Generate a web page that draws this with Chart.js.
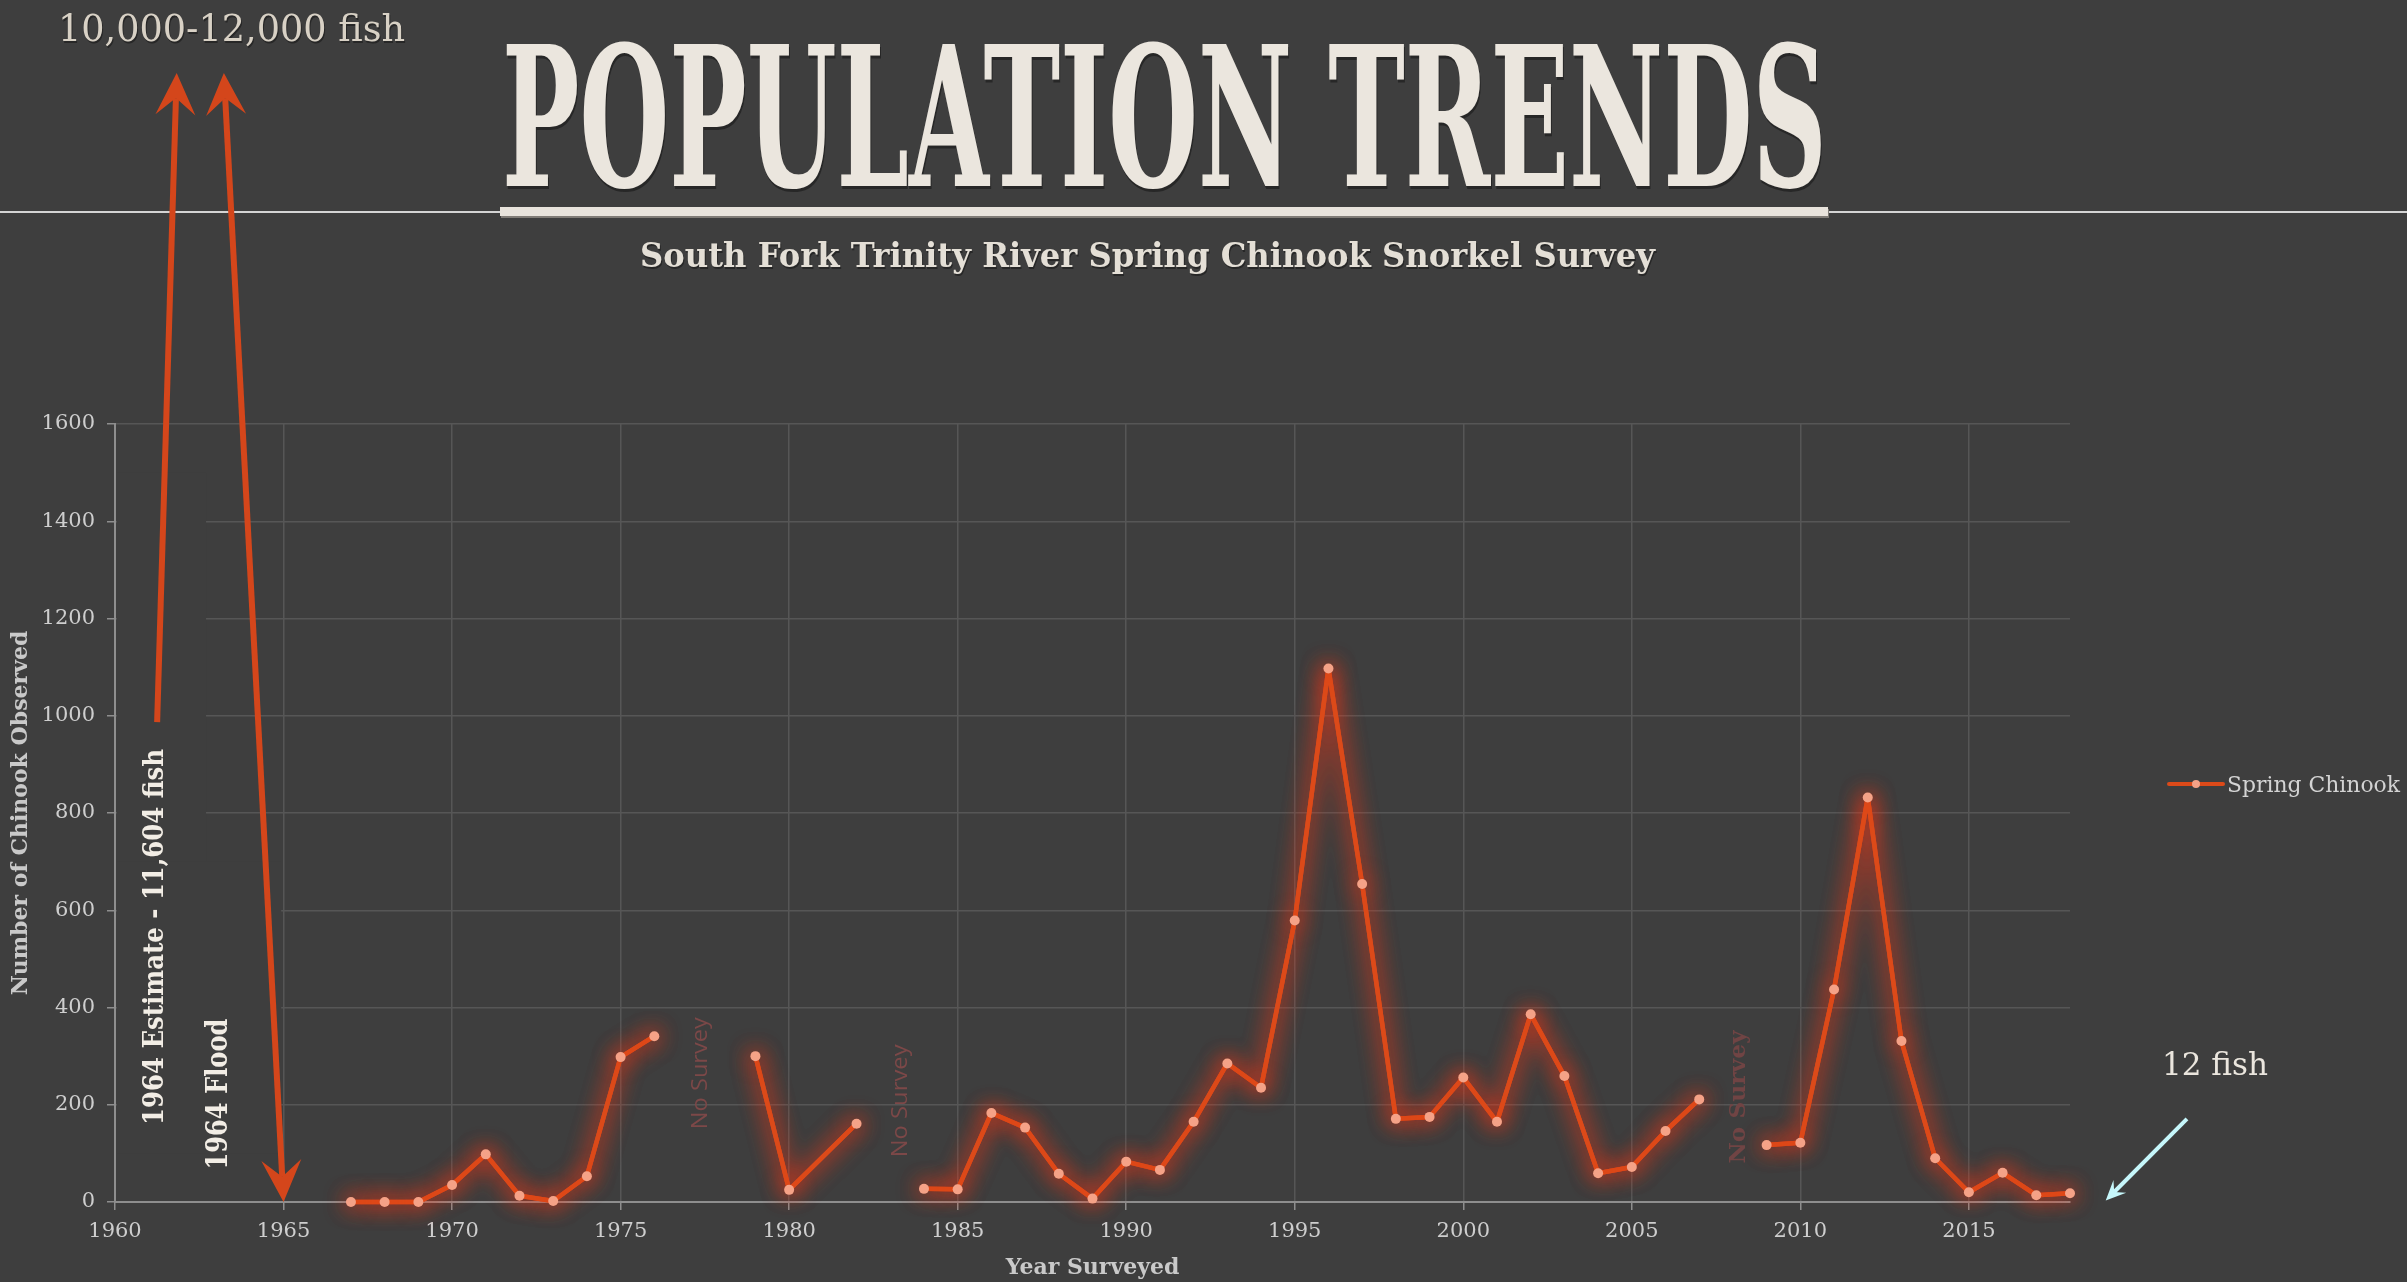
<!DOCTYPE html>
<html>
<head>
<meta charset="utf-8">
<title>Population Trends</title>
<script src="https://cdn.jsdelivr.net/npm/chart.js@4.4.1/dist/chart.umd.min.js"></script>
<style>
  html, body { margin: 0; padding: 0; background: #3e3e3e; overflow: hidden; }
  #wrap { position: relative; width: 2407px; height: 1282px; }
</style>
</head>
<body>
<div id="wrap"><canvas id="popChart"></canvas></div>
<script>
/* ===== Data ===== */
const surveyYears = [1967,1968,1969,1970,1971,1972,1973,1974,1975,1976,1977,1978,1979,1980,
  1982,1983,1984,1985,1986,1987,1988,1989,1990,1991,1992,1993,1994,1995,1996,1997,1998,1999,
  2000,2001,2002,2003,2004,2005,2006,2007,2008,2009,2010,2011,2012,2013,2014,2015,2016,2017,2018];
// null = no survey that year (breaks the line)
const chinookCounts = [0,0,0,35,98,13,2,53,298,341,null,null,300,25,
  161,null,27,26,183,153,58,7,83,66,165,285,235,579,1097,654,171,175,
  256,165,386,259,59,72,146,211,null,117,122,437,832,331,90,20,60,14,18];
const xTickYears  = [1960,1965,1970,1975,1980,1985,1990,1995,2000,2005,2010,2015];
const yTickValues = [0,200,400,600,800,1000,1200,1400,1600];
const seriesName  = 'Spring Chinook';

const titleText    = 'POPULATION TRENDS';
const subtitleText = 'South Fork Trinity River Spring Chinook Snorkel Survey';
const topNoteText  = '10,000-12,000 fish';

/* ===== Colours ===== */
const BG     = '#3e3e3e';
const CREAM  = '#ebe6de';
const LINE   = '#dc4a19';
const POINT  = '#f5a287';
const GRID   = '#565656';
const AXIS   = '#8e8e8e';
const TICK   = '#cecece';
const ARROW  = '#d4461b';
const CYAN   = '#c6f7fb';
const SERIF  = '"DejaVu Serif", "Liberation Serif", serif';

// draw text squeezed/stretched to a given width (font is condensed in the original)
function fitText(ctx, text, font, color, x, y, width, align, rotate) {
  ctx.save();
  ctx.font = font;
  ctx.fillStyle = color;
  ctx.textBaseline = 'alphabetic';
  ctx.textAlign = 'left';
  const natural = ctx.measureText(text).width;
  const sx = width / natural;
  ctx.translate(x, y);
  if (rotate) ctx.rotate(-Math.PI / 2);
  const left = align === 'center' ? -width / 2 : 0;
  ctx.translate(left, 0);
  ctx.scale(sx, 1);
  ctx.fillText(text, 0, 0);
  ctx.restore();
}

// stealth style arrow head, angle = direction of travel
function arrowHead(ctx, tx, ty, angle, len, half) {
  ctx.save();
  ctx.translate(tx, ty);
  ctx.rotate(angle);
  ctx.beginPath();
  ctx.moveTo(0, 0);
  ctx.lineTo(-len, -half);
  ctx.lineTo(-len * 0.6, 0);
  ctx.lineTo(-len, half);
  ctx.closePath();
  ctx.fill();
  ctx.restore();
}

function drawArrow(ctx, x1, y1, x2, y2, o) {
  const ang = Math.atan2(y2 - y1, x2 - x1);
  const back = o.len * 0.6;
  let sx = x1, sy = y1;
  const ex = x2 - Math.cos(ang) * back, ey = y2 - Math.sin(ang) * back;
  if (o.both) { sx = x1 + Math.cos(ang) * back; sy = y1 + Math.sin(ang) * back; }
  ctx.save();
  ctx.strokeStyle = o.color;
  ctx.fillStyle = o.color;
  ctx.lineWidth = o.width;
  ctx.lineCap = 'butt';
  ctx.beginPath();
  ctx.moveTo(sx, sy);
  ctx.lineTo(ex, ey);
  ctx.stroke();
  arrowHead(ctx, x2, y2, ang, o.len, o.half);
  if (o.both) arrowHead(ctx, x1, y1, ang + Math.PI, o.len, o.half);
  ctx.restore();
}

/* ===== Page header + background ===== */
const headerPlugin = {
  id: 'header',
  beforeDraw(chart) {
    const ctx = chart.ctx;
    ctx.save();
    ctx.fillStyle = BG;
    ctx.fillRect(0, 0, chart.width, chart.height);

    // thin rule across the page
    ctx.fillStyle = '#d4d4d4';
    ctx.fillRect(0, 211, chart.width, 2);
    // heavy bar under the title
    ctx.fillStyle = '#807c77';
    ctx.fillRect(501, 209, 1328, 9);
    ctx.fillStyle = '#e8e3dc';
    ctx.fillRect(500, 207, 1328, 9);

    ctx.shadowColor = 'rgba(20,20,20,0.55)';
    ctx.shadowOffsetX = 1;
    ctx.shadowOffsetY = 3;
    fitText(ctx, titleText, 'bold 194px ' + SERIF, CREAM, 502, 186, 1325, 'left');
    ctx.shadowOffsetY = 2;
    fitText(ctx, subtitleText, 'bold 33px ' + SERIF, '#e4dfd6', 640, 267, 1015, 'left');
    fitText(ctx, topNoteText, '38px ' + SERIF, '#d8d1c5', 58, 41, 347, 'left');
    ctx.restore();
  }
};

/* ===== Text boxes in the original hide part of the grid ===== */
const maskBoxes = [
  { x0: 1960, x1: 1962.7,  y0: 700, y1: 1500 },
  { x0: 1960, x1: 1964.93, y0: 100, y1: 700 }
];
const maskPlugin = {
  id: 'masks',
  beforeDatasetsDraw(chart) {
    const { ctx, scales: { x, y } } = chart;
    ctx.save();
    ctx.fillStyle = BG;
    maskBoxes.forEach(b => {
      const l = x.getPixelForValue(b.x0) + 2, r = x.getPixelForValue(b.x1);
      const t = y.getPixelForValue(b.y1), btm = y.getPixelForValue(b.y0);
      ctx.fillRect(l, t, r - l, btm - t);
    });
    ctx.restore();
  }
};

/* ===== Orange glow around the series ===== */
const glowPlugin = {
  id: 'glow',
  beforeDatasetDraw(chart, args) {
    const ctx = chart.ctx;
    ctx.save();
    ctx.shadowColor = 'rgba(255,55,20,0.95)';
    ctx.shadowBlur = 22;
    // extra pass of the line so the halo is as strong as in the original
    args.meta.dataset.draw(ctx, chart.chartArea);
  },
  afterDatasetDraw(chart) { chart.ctx.restore(); }
};

/* ===== Annotations (positions in data units) ===== */
const sideNotes = [
  { text: '1964 Estimate - 11,604 fish', x: 1961.42, y: 545, len: 376, font: 'bold 28px ' + SERIF, color: '#f2ede5' },
  { text: '1964 Flood',                  x: 1963.32, y: 222, len: 151, font: 'bold 29px ' + SERIF, color: '#f2ede5' },
  { text: 'No Survey', x: 1977.56, y: 265, len: 112, font: '22px "Open Sans", "DejaVu Sans", sans-serif', color: '#7c4848' },
  { text: 'No Survey', x: 1983.50, y: 208, len: 113, font: '22px "Open Sans", "DejaVu Sans", sans-serif', color: '#7c4848' },
  { text: 'No Survey', x: 2008.35, y: 216, len: 133, font: 'bold 23px ' + SERIF, color: '#704444' }
];
const orangeArrows = [
  { from: [1961.25, 987],  to: [1961.83, 2322], both: false },
  { from: [1963.23, 2322], to: [1965, 0],       both: true }
];
const fishNote  = { text: '12 fish', x: 2022.3, y: 262, width: 106 };
const cyanArrow = { from: [2021.47, 171], to: [2019.06, 3] };

const notesPlugin = {
  id: 'notes',
  afterDraw(chart) {
    const { ctx, chartArea, scales: { x, y } } = chart;
    const px = v => x.getPixelForValue(v), py = v => y.getPixelForValue(v);

    orangeArrows.forEach(a => {
      drawArrow(ctx, px(a.from[0]), py(a.from[1]), px(a.to[0]), py(a.to[1]),
        { color: ARROW, width: 6, len: 42, half: 20, both: a.both });
    });

    sideNotes.forEach(n => {
      fitText(ctx, n.text, n.font, n.color, px(n.x), py(n.y), n.len, 'center', true);
    });

    fitText(ctx, fishNote.text, '32px ' + SERIF, CREAM, px(fishNote.x), py(fishNote.y), fishNote.width, 'center');
    drawArrow(ctx, px(cyanArrow.from[0]), py(cyanArrow.from[1]), px(cyanArrow.to[0]), py(cyanArrow.to[1]),
      { color: CYAN, width: 4, len: 20, half: 9, both: false });

    // legend
    const ds = chart.data.datasets[0];
    const lx = chartArea.right + 99, ly = chartArea.top + 360;
    ctx.save();
    ctx.strokeStyle = ds.borderColor;
    ctx.lineWidth = 4;
    ctx.lineCap = 'round';
    ctx.beginPath();
    ctx.moveTo(lx, ly);
    ctx.lineTo(lx + 54, ly);
    ctx.stroke();
    ctx.fillStyle = ds.pointBackgroundColor;
    ctx.beginPath();
    ctx.arc(lx + 27, ly, 4, 0, Math.PI * 2);
    ctx.fill();
    ctx.restore();
    fitText(ctx, ds.label, '22px ' + SERIF, '#d3d3d3', lx + 58, ly + 8, 173, 'left');
  }
};

const points = surveyYears.map((yr, i) => ({ x: yr, y: chinookCounts[i] }));
const tickFont = { family: SERIF, size: 21 };
const titleFont = { family: SERIF, size: 22, weight: 'bold' };

new Chart(document.getElementById('popChart'), {
  type: 'line',
  data: {
    datasets: [{
      label: seriesName,
      data: points,
      borderColor: LINE,
      backgroundColor: POINT,
      borderWidth: 4.5,
      borderJoinStyle: 'round',
      borderCapStyle: 'round',
      pointRadius: 5,
      pointBackgroundColor: POINT,
      pointBorderColor: POINT,
      pointBorderWidth: 0,
      tension: 0,
      spanGaps: false,
      clip: false
    }]
  },
  options: {
    responsive: true,
    maintainAspectRatio: false,
    animation: false,
    layout: { padding: { top: 424, right: 337, bottom: 0, left: 0 } },
    plugins: { legend: { display: false }, tooltip: { enabled: false } },
    scales: {
      x: {
        type: 'linear',
        min: 1960,
        max: 2018,
        afterBuildTicks: s => { s.ticks = xTickYears.map(v => ({ value: v })); },
        afterFit: s => { s.height = 80; },
        ticks: { callback: v => String(v), color: TICK, font: tickFont, padding: 9, maxRotation: 0 },
        grid: { color: GRID, lineWidth: 1.5, tickLength: 8, tickColor: AXIS },
        border: { color: AXIS, width: 2 },
        title: { display: true, text: 'Year Surveyed', color: '#c9c9c9', font: titleFont, padding: { top: 0, bottom: 1 } }
      },
      y: {
        min: 0,
        max: 1600,
        afterBuildTicks: s => { s.ticks = yTickValues.map(v => ({ value: v })); },
        afterFit: s => { s.width = 115; },
        ticks: { callback: v => String(v), color: TICK, font: tickFont, padding: 12 },
        grid: { color: GRID, lineWidth: 1.5, tickLength: 8, tickColor: AXIS },
        border: { color: AXIS, width: 2 },
        title: { display: true, text: 'Number of Chinook Observed', color: '#c9c9c9', font: titleFont, padding: { top: 8, bottom: 0 } }
      }
    }
  },
  plugins: [headerPlugin, maskPlugin, glowPlugin, notesPlugin]
});
</script>
</body>
</html>
